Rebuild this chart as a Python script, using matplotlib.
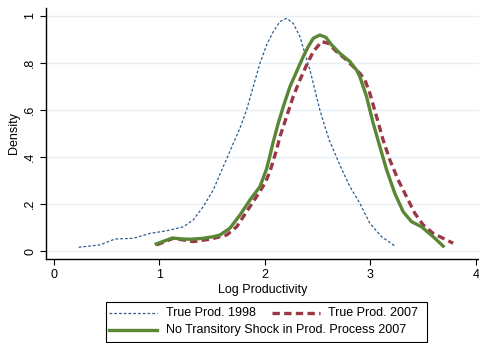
import matplotlib
matplotlib.use("Agg")
import matplotlib.pyplot as plt
from matplotlib.lines import Line2D
from matplotlib.patches import Rectangle

plt.rcParams['font.family'] = ['Liberation Sans', 'DejaVu Sans']

# Kernel density estimates of log productivity
x_1998 = [0.234, 0.436, 0.578, 0.75, 0.91, 1.068, 1.226, 1.32, 1.415, 1.51, 1.605, 1.70,
          1.763, 1.826, 1.889, 1.953, 2.016, 2.079, 2.142, 2.205, 2.268, 2.332, 2.379,
          2.427, 2.474, 2.521, 2.569, 2.61, 2.71, 2.806, 2.90, 2.995, 3.106, 3.23]
d_1998 = [0.016, 0.026, 0.051, 0.054, 0.075, 0.086, 0.103, 0.132, 0.189, 0.26, 0.359, 0.458,
          0.522, 0.60, 0.699, 0.799, 0.877, 0.933, 0.976, 0.99, 0.969, 0.912, 0.841,
          0.77, 0.685, 0.60, 0.529, 0.472, 0.366, 0.274, 0.203, 0.118, 0.061, 0.022]

x_2007 = [0.973, 1.131, 1.32, 1.479, 1.637, 1.732, 1.826, 1.92, 2.0, 2.047, 2.11, 2.142,
          2.205, 2.268, 2.332, 2.395, 2.458, 2.537, 2.60, 2.68, 2.774, 2.869, 2.90, 2.948,
          2.995, 3.059, 3.121, 3.185, 3.264, 3.343, 3.422, 3.50, 3.595, 3.69, 3.785]
d_2007 = [0.026, 0.054, 0.04, 0.05, 0.068, 0.103, 0.167, 0.231, 0.288, 0.337, 0.43, 0.486,
          0.571, 0.657, 0.728, 0.791, 0.848, 0.891, 0.884, 0.848, 0.813, 0.77, 0.756, 0.728,
          0.671, 0.571, 0.472, 0.387, 0.302, 0.231, 0.16, 0.111, 0.075, 0.054, 0.033]

x_notr = [0.97, 1.12, 1.225, 1.289, 1.415, 1.51, 1.573, 1.668, 1.763, 1.858, 1.953, 2.016,
          2.05, 2.079, 2.126, 2.174, 2.237, 2.30, 2.363, 2.41, 2.458, 2.521, 2.578, 2.632,
          2.711, 2.806, 2.869, 2.90, 2.932, 2.964, 2.995, 3.027, 3.09, 3.154, 3.232, 3.311,
          3.39, 3.485, 3.595, 3.69]
d_notr = [0.03, 0.055, 0.051, 0.05, 0.054, 0.061, 0.068, 0.097, 0.153, 0.217, 0.274, 0.35,
          0.41, 0.465, 0.543, 0.614, 0.699, 0.763, 0.827, 0.869, 0.905, 0.919, 0.909, 0.877,
          0.841, 0.806, 0.77, 0.742, 0.699, 0.657, 0.60, 0.543, 0.444, 0.345, 0.245, 0.167,
          0.125, 0.103, 0.061, 0.021]

x_ticks = [0, 1, 2, 3, 4]
y_ticks = [0, 0.2, 0.4, 0.6, 0.8, 1.0]
y_ticklabels = ["0", ".2", ".4", ".6", ".8", "1"]

labels = ["True Prod. 1998", "True Prod. 2007", "No Transitory Shock in Prod. Process 2007"]

c_blue = "#2c5d8c"
c_red = "#9a3845"
c_green = "#5a8636"
c_grid = "#e6eef1"
fs = 9.0

W, H = 479, 343
fig = plt.figure(figsize=(W / 100, H / 100), dpi=100)
ax = fig.add_axes([46 / W, 1 - 259 / H, (479 - 46) / W, (259 - 8) / H])

dot_style = (0, (2.2, 1.6))
dash_style = (0, (2.2, 1.3))
ax.plot(x_1998, d_1998, color=c_blue, lw=0.9, ls=dot_style)
ax.plot(x_2007, d_2007, color=c_red, lw=2.4, ls=dash_style)
ax.plot(x_notr, d_notr, color=c_green, lw=2.4, solid_joinstyle='round')

ax.set_xlim(-0.076, 4.03)
ax.set_ylim(-0.034, 1.034)
ax.set_xticks(x_ticks)
ax.set_yticks(y_ticks)
ax.set_yticklabels(y_ticklabels, rotation=90, va='center')
ax.tick_params(axis='both', labelsize=fs, length=4, width=0.8, color='black', pad=3)
for t in y_ticks:
    ax.axhline(t, color=c_grid, lw=1.0, zorder=0)
for s in ['top', 'right']:
    ax.spines[s].set_visible(False)
for s in ['left', 'bottom']:
    ax.spines[s].set_linewidth(1.0)
ax.set_xlabel("Log Productivity", fontsize=fs, labelpad=2)
ax.set_ylabel("Density", fontsize=fs, labelpad=3)

# Legend box laid out in pixel coordinates of the figure
def fx(px):
    return px / W

def fy(py):
    return 1 - py / H

fig.add_artist(Rectangle((fx(106), fy(342)), fx(427) - fx(106), fy(302) - fy(342),
                         transform=fig.transFigure, fill=False, ec='black', lw=0.8))
fig.add_artist(Line2D([fx(109), fx(157)], [fy(313), fy(313)], transform=fig.transFigure,
                      color=c_blue, lw=0.9, ls=dot_style))
fig.add_artist(Line2D([fx(272), fx(320)], [fy(313), fy(313)], transform=fig.transFigure,
                      color=c_red, lw=2.4, ls=dash_style))
fig.add_artist(Line2D([fx(109), fx(157)], [fy(330), fy(330)], transform=fig.transFigure,
                      color=c_green, lw=2.4))
fig.text(fx(166), fy(313), labels[0], fontsize=fs, va='center', ha='left')
fig.text(fx(328), fy(313), labels[1], fontsize=fs, va='center', ha='left')
fig.text(fx(166), fy(330), labels[2], fontsize=fs, va='center', ha='left')

fig.savefig("out.png", dpi=100)
